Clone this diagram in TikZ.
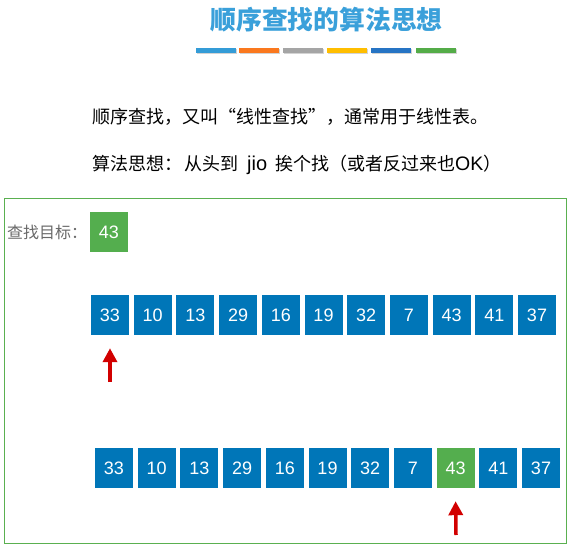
\documentclass[tikz,border=0pt]{standalone}
\usepackage{fontspec}
\setmainfont{Liberation Sans}
\newfontfamily\cjk{Noto Sans CJK SC}
\newfontfamily\lat{Liberation Sans}
\usetikzlibrary{arrows.meta,shadows}
\definecolor{titleblue}{RGB}{58,160,218}
\definecolor{boxblue}{RGB}{0,118,184}
\definecolor{boxgreen}{RGB}{84,174,78}
\definecolor{arrowred}{RGB}{210,0,0}
\definecolor{framegreen}{RGB}{90,176,80}
\definecolor{labelgray}{RGB}{105,105,105}
\definecolor{barA}{RGB}{52,156,215}
\definecolor{barB}{RGB}{250,120,30}
\definecolor{barC}{RGB}{165,165,165}
\definecolor{barD}{RGB}{255,190,0}
\definecolor{barE}{RGB}{38,116,196}
\definecolor{barF}{RGB}{84,172,72}
\tikzset{
  cell/.style={fill=boxblue, text=white, minimum width=38pt, minimum height=40pt, inner sep=0pt, font=\fontsize{18}{20}\selectfont},
  hitcell/.style={cell, fill=boxgreen},
  bar/.style={minimum width=40pt, minimum height=5pt, inner sep=0pt, drop shadow={shadow xshift=1pt, shadow yshift=-1.5pt, opacity=0.35}},
  ptr/.style={draw=arrowred, line width=3.5pt, -{Triangle[length=14pt,width=14pt]}},
  txt/.style={anchor=west, inner sep=0pt, font=\cjk\fontsize{18}{20}\selectfont}
}
\begin{document}
\begin{tikzpicture}[x=1pt,y=-1pt]
\useasboundingbox (0,0) rectangle (575,548);
% title
\node[inner sep=0pt, text=titleblue, font=\cjk\bfseries\fontsize{25.8}{28}\selectfont] (title) at (326.5,20) {顺序查找的算法思想};
\node[bar, fill=barA] (b1) at (216,50.5) {};
\node[bar, fill=barB] (b2) at (259,50.5) {};
\node[bar, fill=barC] (b3) at (303,50.5) {};
\node[bar, fill=barD] (b4) at (347,50.5) {};
\node[bar, fill=barE] (b5) at (391,50.5) {};
\node[bar, fill=barF] (b6) at (436,50.5) {};
% text lines
\node[txt] (l1) at (92,117) {顺序查找，又叫“线性查找”，通常用于线性表。};
\node[txt] (l2) at (92,165) {算法思想：\hspace{2pt}从头到\hspace{9pt}{\lat\fontsize{20}{20}\selectfont jio}\hspace{8pt}挨个找（或者反过来也{\lat\fontsize{19.5}{20}\selectfont OK}）};
% frame
\draw[framegreen, line width=0.9pt] (4,198) rectangle (566,543.5);
% target
\node[anchor=west, inner sep=0pt, text=labelgray, font=\cjk\fontsize{16}{18}\selectfont] (tl) at (7,232) {查找目标：};
\node[hitcell] (t) at (109,232) {43};
% row 1
\foreach \v [count=\i from 0] in {33,10,13,29,16,19,32,7,43,41,37}{
  \node[cell] (a\i) at ({110+42.7*\i},315) {\v};
}
% row 2
\foreach \v [count=\i from 0] in {33,10,13,29,16,19,32,7}{
  \node[cell] (c\i) at ({114+42.7*\i},468) {\v};
}
\node[hitcell] (c8) at ({114+42.7*8},468) {43};
\node[cell] (c9) at ({114+42.7*9},468) {41};
\node[cell] (c10) at ({114+42.7*10},468) {37};
% pointers
\coordinate (p1) at (110,382);
\coordinate (p2) at (456,535);
\draw[ptr] (p1) -- ([yshift=-13pt]a0.south);
\draw[ptr] (p2) -- ([yshift=-13pt]c8.south);
\end{tikzpicture}
\end{document}
